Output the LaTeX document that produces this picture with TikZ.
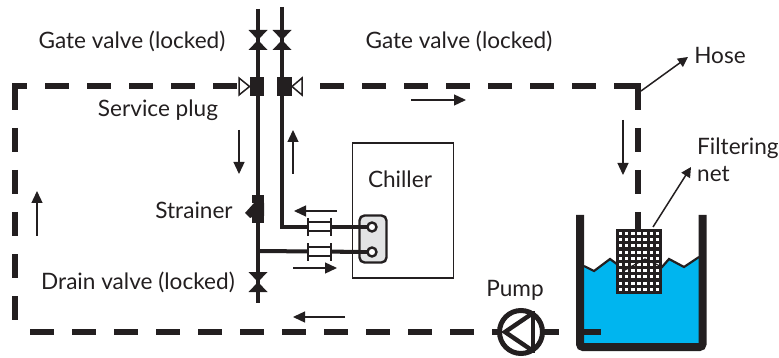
\documentclass[tikz,border=0pt]{standalone}
\usepackage{fontspec}
\setmainfont{Lato}
\usetikzlibrary{arrows.meta}
\definecolor{ink}{HTML}{231F20}
\definecolor{water}{HTML}{00B5EF}
\definecolor{hx}{HTML}{E2E3E4}
\tikzset{
 pipe/.style={draw=ink,line width=4pt},
 hose/.style={draw=ink,line width=6pt},
 flow/.style={draw=ink,line width=1.3pt,-{Triangle[length=12pt,width=11pt]}},
 leader/.style={draw=ink,line width=1.5pt,-{Triangle[length=10pt,width=10pt]}},
 lbl/.style={text=ink,font=\fontsize{22.6pt}{27pt}\selectfont,inner sep=0pt},
 block/.style={fill=ink,draw=none,minimum width=14.5pt,minimum height=19pt,inner sep=0pt},
}
\newcommand{\valvetie}[2]{\fill[ink] (#1-9.5,#2-10) -- (#1+9.5,#2-10) -- (#1-9.5,#2+10) -- (#1+9.5,#2+10) -- cycle;}
\begin{document}
\begin{tikzpicture}[x=1pt,y=-1pt]
\useasboundingbox (0,0) rectangle (779,358);
% water
\fill[water] (584,266) -- (594,271) -- (610,259) -- (625,270) -- (645,259) -- (662,267) -- (669,259) -- (684,267) -- (699,257) -- (699,344) -- (584,344) -- cycle;
\draw[ink,line width=2.2pt] (584,266) -- (594,271) -- (610,259) -- (625,270) -- (645,259) -- (662,267) -- (669,259) -- (684,267) -- (699,257);
% coordinates
\coordinate (v1) at (258,9);
\coordinate (v2) at (282,7);
\coordinate (bot) at (258,303);
\coordinate (sup) at (258,251);
% pipes
\draw[pipe] (v1) -- (bot);
\draw[pipe] (v2) -- (282,227) -- (372,227);
\draw[pipe] (sup) -- (372,252);
% valves
\valvetie{258}{40}
\valvetie{282}{40}
\valvetie{258}{282}
% service plug
\node[block] (b1) at (257,86.5) {};
\node[block] (b2) at (284.5,86.5) {};
\draw[ink,line width=1.5pt,fill=white,line join=miter] (b1.west) -- (239,78) -- (239,95) -- cycle;
\draw[ink,line width=1.5pt,fill=white,line join=miter] (b2.east) -- (302,78) -- (302,95) -- cycle;
% strainer
\fill[ink] (252,195) rectangle (264,203);
\fill[ink] (252,216) rectangle (264,223);
\fill[ink] (245,213) -- (254,203) -- (264,203) -- (264,216) -- (254,216) -- (250,218) -- cycle;
% hose
\draw[hose,dash pattern=on 24pt off 18pt] (14.5,86) -- (14.5,320);
\draw[hose,dash pattern=on 24pt off 18pt] (30,332) -- (493,332);
\draw[hose,dash pattern=on 24pt off 18pt,dash phase=11.5pt] (14.5,86) -- (238,86);
\draw[hose,dash pattern=on 24pt off 18pt] (638,86) -- (303,86);
\draw[hose,dash pattern=on 24pt off 18pt] (638,86) -- (638,230);
\fill[ink] (11.5,83) rectangle (17.5,89);
\fill[ink] (635,83) rectangle (641,89);
\draw[hose] (493,332) -- (499,332);
\draw[hose] (543,332) -- (559,332);
\draw[hose] (577,332) -- (601,332);
% pump
\node[circle,draw=ink,line width=5pt,fill=white,minimum size=43pt,inner sep=0pt] (pump) at (521,332) {};
\draw[ink,line width=4.6pt] (533,311) -- (533,353);
\draw[ink,line width=4.4pt,line join=miter] (533,313) -- (505,332) -- (533,351);
% tank
\draw[ink,line width=8pt,line cap=butt,rounded corners=3pt] (580,215) -- (580,347) -- (702.5,347) -- (702.5,215);
% chiller
\node[draw=ink,line width=1.7pt,minimum width=101pt,minimum height=135pt,inner sep=0pt] (ch) at (403,210.5) {};
\node[lbl] (chl) at (400,179) {Chiller};
% heat exchanger
\node[draw=ink,fill=hx,line width=2.4pt,rounded corners=5pt,minimum width=27pt,minimum height=47pt,inner sep=0pt] (hx) at (373,239) {};
\draw[pipe] (340,227) -- (372,227);
\draw[pipe] (340,252) -- (372,252);
\node[circle,draw=ink,fill=white,line width=2.4pt,minimum size=9pt,inner sep=0pt] (p1) at (372,227) {};
\node[circle,draw=ink,fill=white,line width=2.4pt,minimum size=9pt,inner sep=0pt] (p2) at (372,252) {};
% flexible joints
\foreach \yy in {227,252}{
 \fill[white] (309,\yy-5) rectangle (331,\yy+5);
 \draw[ink,line width=1.8pt] (308,\yy-5) -- (331,\yy-5) (308,\yy+4) -- (331,\yy+4);
 \draw[ink,line width=2.2pt] (308,\yy-9) -- (308,\yy+9) (331,\yy-9) -- (331,\yy+9);
}
% net
\fill[ink] (616,229) rectangle (662,294);
\foreach \c in {0,...,6}{\foreach \r in {0,...,9}{
 \fill[white] (618.5+\c*6.2,232+\r*6.2) rectangle ++(3.6,3);
}}
\draw[ink,line width=1.2pt] (622,269) -- (625,270) -- (645,259) -- (660,266);
% flow arrows
\draw[flow] (411,100) -- (466,100);
\draw[flow] (239,130) -- (239,174);
\draw[flow] (293,174) -- (293,130);
\draw[flow] (37,236) -- (37,191);
\draw[flow] (623,120) -- (623,175);
\draw[flow] (337,211) -- (294,211);
\draw[flow] (293,268) -- (337,268);
\draw[flow] (345,317) -- (293,317);
% labels
\node[lbl] (t1) at (132,41) {Gate valve (locked)};
\node[lbl] (t2) at (459,41) {Gate valve (locked)};
\node[lbl] (t3) at (158,110) {Service plug};
\node[lbl] (t4) at (194,210) {Strainer};
\node[lbl] (t5) at (138,282) {Drain valve (locked)};
\node[lbl] (t6) at (515,290) {Pump};
\node[lbl] (t7) at (720,55) {Hose};
\node[lbl,align=left,anchor=north west] (t8) at (697,138) {Filtering\\net};
% leaders
\coordinate (la) at (641,91);
\coordinate (lb) at (653,227);
\draw[leader] (la) -- (688,57);
\draw[leader] (lb) -- (691,167);
\end{tikzpicture}
\end{document}
